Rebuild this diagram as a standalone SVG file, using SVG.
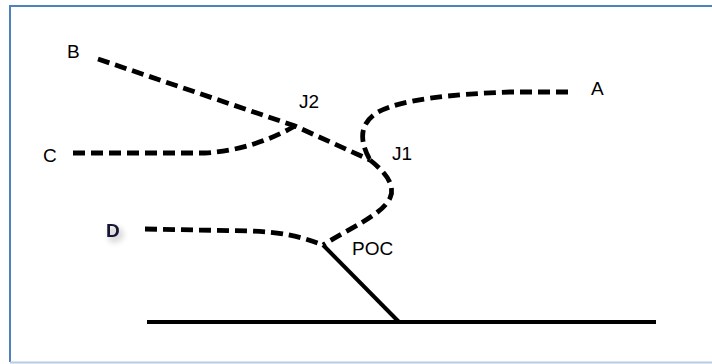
<svg xmlns="http://www.w3.org/2000/svg" width="712" height="364" viewBox="0 0 712 364">
  <defs>
    <style>
      .lbl { font-family: "Liberation Sans", Arial, sans-serif; font-size: 19px; fill: #000; }
      .dash { fill: none; stroke: #000; stroke-width: 4.8; stroke-dasharray: 12 6; stroke-linecap: butt; }
      .solid { fill: none; stroke: #000; stroke-width: 4; }
    </style>
    <filter id="shadow" x="-50%" y="-50%" width="250%" height="250%">
      <feGaussianBlur in="SourceAlpha" stdDeviation="3"/>
      <feOffset dx="3" dy="4" result="b"/>
      <feComponentTransfer><feFuncA type="linear" slope="0.35"/></feComponentTransfer>
      <feMerge><feMergeNode/><feMergeNode in="SourceGraphic"/></feMerge>
    </filter>
  </defs>
  <rect width="712" height="364" fill="#fff"/>
  <g id="frame">
    <line x1="10" y1="6" x2="712" y2="6" stroke="#4f81bd" stroke-width="2"/>
    <line x1="10" y1="5" x2="10" y2="362" stroke="#4f81bd" stroke-width="2"/>
    <line x1="10" y1="362.5" x2="712" y2="362.5" stroke="#b8cce4" stroke-width="2"/>
  </g>
  <g id="connectors">
    <path class="dash" d="M98,59 L295,126 L370,160"/>
    <path class="dash" d="M73,153 L205,153 C240,151 270,140 295,126"/>
    <path class="dash" d="M568,92 L510,92 C450,94 400,100 378,112 C358,124 360,142 370,160"/>
    <path class="dash" d="M370,160 C385,172 396,185 390,198 C382,215 350,228 323,245"/>
    <path class="dash" d="M145,229 L250,231 C280,232 300,236 323,245"/>
    <path class="solid" d="M323,245 L399,322"/>
    <path class="solid" d="M147,322 L656,322" stroke-width="5"/>
  </g>
  <g id="node-B"><text class="lbl" x="67" y="58">B</text></g>
  <g id="node-A"><text class="lbl" x="591" y="95">A</text></g>
  <g id="node-C"><text class="lbl" x="43" y="162">C</text></g>
  <g id="node-J2"><text class="lbl" x="299" y="108">J2</text></g>
  <g id="node-J1"><text class="lbl" x="392" y="160">J1</text></g>
  <g id="node-D"><text class="lbl" x="106" y="237" style="font-weight:bold;fill:#141432" filter="url(#shadow)">D</text></g>
  <g id="node-POC"><text class="lbl" x="352" y="255">POC</text></g>
</svg>
